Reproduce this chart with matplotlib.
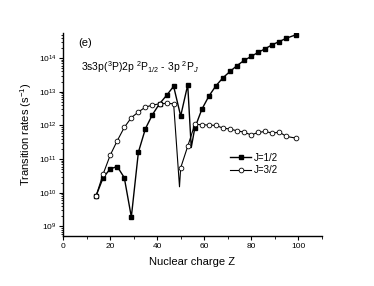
import numpy as np
import matplotlib.pyplot as plt
from matplotlib.ticker import LogLocator, MultipleLocator, NullFormatter

plt.rcParams['font.family'] = ['Liberation Sans', 'DejaVu Sans']
plt.rcParams['mathtext.fontset'] = 'custom'
plt.rcParams['mathtext.rm'] = 'Liberation Sans'
plt.rcParams['mathtext.it'] = 'Liberation Sans:italic'

# ---------------------------------------------------------------------
# Data
# ---------------------------------------------------------------------
z_vals = [14, 17, 20, 23, 26, 29, 32, 35, 38, 41, 44, 47, 50, 53, 56,
          59, 62, 65, 68, 71, 74, 77, 80, 83, 86, 89, 92, 95, 99]

rate_half = [8.1e9, 2.8e10, 5.1e10, 6.0e10, 2.8e10, 1.9e9, 1.6e11, 8.0e11,
             2.1e12, 4.4e12, 7.8e12, 1.45e13, 1.9e12, 1.6e13, 8.3e11,
             3.0e12, 7.4e12, 1.5e13, 2.6e13, 4.0e13, 6.0e13, 8.5e13,
             1.12e14, 1.48e14, 1.9e14, 2.5e14, 3.1e14, 3.9e14, 4.9e14]

rate_three_half = [8.1e9, 3.6e10, 1.3e11, 3.5e11, 8.7e11, 1.7e12, 2.5e12,
                   3.5e12, 4.0e12, 4.4e12, 4.5e12, 4.4e12, 5.5e10, 2.4e11,
                   1.07e12, 1.05e12, 1.02e12, 1.0e12, 8.3e11, 7.8e11,
                   6.9e11, 6.3e11, 5.2e11, 6.2e11, 6.6e11, 5.9e11, 6.3e11,
                   4.7e11, 4.2e11]

# minima of the connecting curves between data points (line only, no marker)
dip_half = (54.5, 2.2e11)
dip_three_half = (49.5, 1.5e10)


def with_dip(z, r, dip):
    zz = list(z) + [dip[0]]
    rr = list(r) + [dip[1]]
    order = np.argsort(zz)
    zz = np.array(zz)[order]
    rr = np.array(rr)[order]
    marks = [i for i, v in enumerate(zz) if v != dip[0]]
    return zz, rr, marks


# ---------------------------------------------------------------------
# Figure
# ---------------------------------------------------------------------
fig = plt.figure(figsize=(3.74, 2.86), dpi=100)
ax = fig.add_axes([0.169, 0.175, 0.691, 0.71])

zz, rr, mk = with_dip(z_vals, rate_half, dip_half)
ax.plot(zz, rr, color='black', lw=1.0, marker='s', ms=3.2,
        mfc='black', mec='black', markevery=mk, label='J=1/2')
zz, rr, mk = with_dip(z_vals, rate_three_half, dip_three_half)
ax.plot(zz, rr, color='black', lw=0.8, marker='o', ms=3.4,
        mfc='white', mec='black', mew=0.6, markevery=mk, label='J=3/2')

ax.set_yscale('log')
ax.set_xlim(0, 110)
ax.set_ylim(5.2e8, 5.6e14)

ax.spines['top'].set_visible(False)
ax.spines['right'].set_visible(False)
ax.spines['left'].set_linewidth(1.0)
ax.spines['bottom'].set_linewidth(1.0)

ax.xaxis.set_major_locator(MultipleLocator(20))
ax.xaxis.set_minor_locator(MultipleLocator(10))
ax.set_xticks([0, 20, 40, 60, 80, 100])
ax.yaxis.set_major_locator(LogLocator(base=10, numticks=20))
ax.yaxis.set_minor_locator(LogLocator(base=10, subs=np.arange(2, 10), numticks=20))
ax.yaxis.set_minor_formatter(NullFormatter())

ax.tick_params(axis='both', which='major', direction='out', length=3,
               width=0.8, labelsize=6, pad=2)
ax.tick_params(axis='both', which='minor', direction='out', length=1.8,
               width=0.6)

ax.set_xlabel('Nuclear charge Z', fontsize=8, labelpad=5)
ax.set_ylabel('Transition rates (s$^{-1}$)', fontsize=8, labelpad=3)

ax.text(0.06, 0.95, '(e)', transform=ax.transAxes, fontsize=8,
        va='center', ha='left')
ax.text(0.068, 0.83,
        '3s3p($^3$P)2p $^2$P$_{1/2}$ - 3p $^2$P$_J$',
        transform=ax.transAxes, fontsize=7.5, va='center', ha='left')

leg = ax.legend(loc='upper left', bbox_to_anchor=(0.63, 0.43), frameon=False,
                fontsize=7, handlelength=2.2, handletextpad=0.3,
                labelspacing=0.3, borderaxespad=0)

fig.savefig('out.png', dpi=100)
